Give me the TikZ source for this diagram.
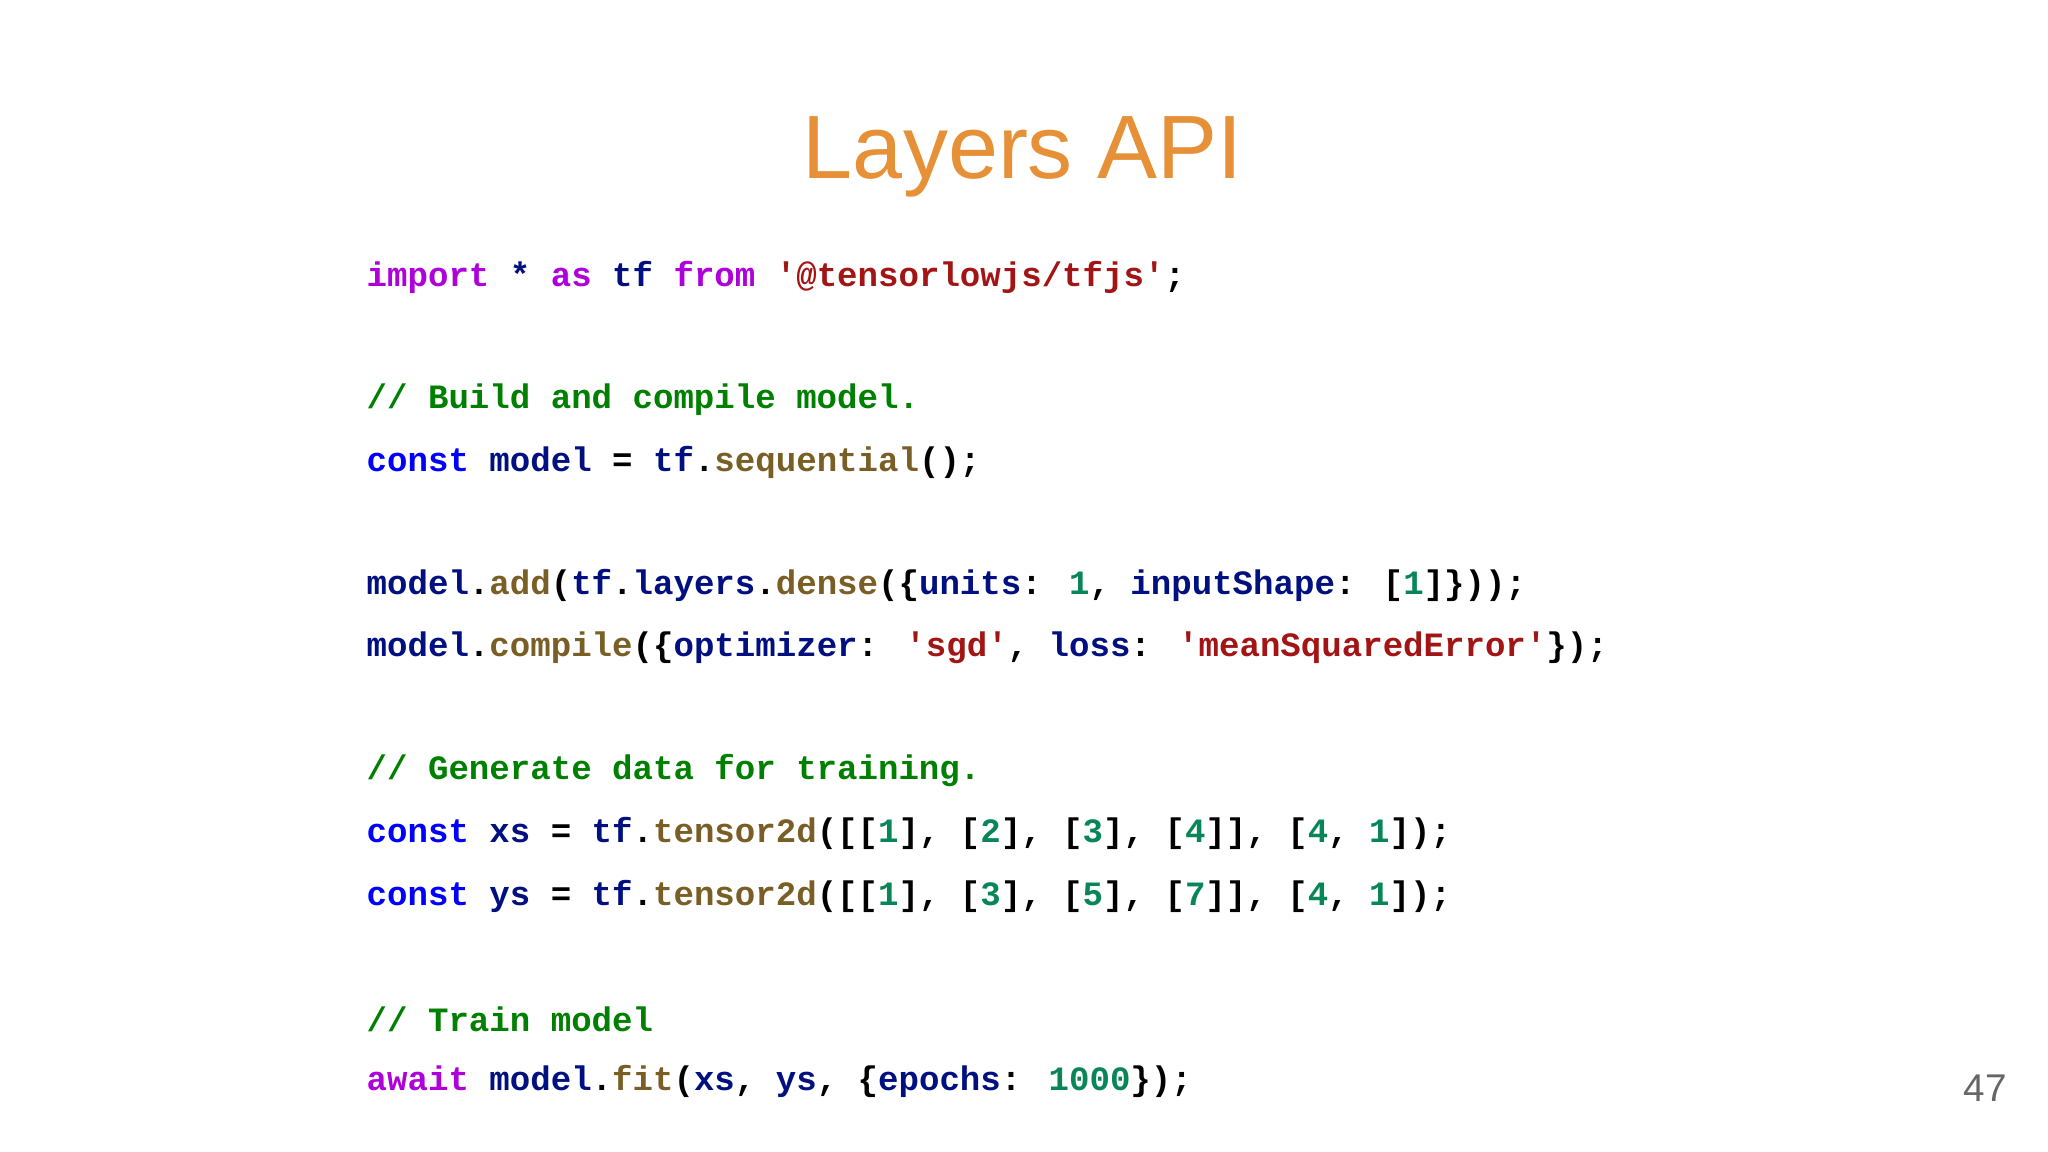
\documentclass[tikz,border=0pt]{standalone}
\usepackage{fontspec}
\setmainfont{Liberation Sans}
\newfontfamily\codefont{Liberation Mono}[Ligatures=NoCommon]
\definecolor{titlec}{RGB}{230,145,56}
\definecolor{kwc}{RGB}{175,0,219}
\definecolor{cstc}{RGB}{0,0,255}
\definecolor{idc}{RGB}{0,16,128}
\definecolor{strc}{RGB}{163,21,21}
\definecolor{fnc}{RGB}{121,94,38}
\definecolor{numc}{RGB}{9,134,88}
\definecolor{cmc}{RGB}{0,128,0}
\newcommand\KW[1]{\textcolor{kwc}{#1}}
\newcommand\CS[1]{\textcolor{cstc}{#1}}
\newcommand\ID[1]{\textcolor{idc}{#1}}
\newcommand\ST[1]{\textcolor{strc}{\char"0027 #1\char"0027}}
\newcommand\FN[1]{\textcolor{fnc}{#1}}
\newcommand\NM[1]{\textcolor{numc}{#1}}
\newcommand\CM[1]{\textcolor{cmc}{#1}}
\tikzset{codeline/.style={anchor=west,inner sep=0pt,font=\codefont\bfseries\fontsize{9.7pt}{11pt}\selectfont}}
\begin{document}
\begin{tikzpicture}
\useasboundingbox (0,0) rectangle (20.48,-11.52);
\fill[white] (0,0) rectangle (20.48,-11.52);
\node[text=titlec,font=\fontsize{25.6pt}{30pt}\selectfont] (title) at (10.23,-1.57) {Layers API};
\node[codeline] (l1) at (3.66,-2.77) {\KW{import} \ID{*} \KW{as} \ID{tf} \KW{from} \ST{@tensorlowjs/tfjs};};
\node[codeline] (l2) at (3.66,-4.00) {\CM{// Build and compile model.}};
\node[codeline] (l3) at (3.66,-4.62) {\CS{const} \ID{model} = \ID{tf}.\FN{sequential}();};
\node[codeline] (l4) at (3.66,-5.85) {\ID{model}.\FN{add}(\ID{tf}.\ID{layers}.\FN{dense}(\{\ID{units}: \NM{1}, \ID{inputShape}: [\NM{1}]\}));};
\node[codeline] (l5) at (3.66,-6.48) {\ID{model}.\FN{compile}(\{\ID{optimizer}: \ST{sgd}, \ID{loss}: \ST{meanSquaredError}\});};
\node[codeline] (l6) at (3.66,-7.71) {\CM{// Generate data for training.}};
\node[codeline] (l7) at (3.66,-8.33) {\CS{const} \ID{xs} = \ID{tf}.\FN{tensor2d}([[\NM{1}], [\NM{2}], [\NM{3}], [\NM{4}]], [\NM{4}, \NM{1}]);};
\node[codeline] (l8) at (3.66,-8.96) {\CS{const} \ID{ys} = \ID{tf}.\FN{tensor2d}([[\NM{1}], [\NM{3}], [\NM{5}], [\NM{7}]], [\NM{4}, \NM{1}]);};
\node[codeline] (l9) at (3.66,-10.19) {\CM{// Train model}};
\node[codeline] (l10) at (3.66,-10.81) {\KW{await} \ID{model}.\FN{fit}(\ID{xs}, \ID{ys}, \{\ID{epochs}: \NM{1000}\});};
\node[text=black!60,font=\fontsize{11pt}{13pt}\selectfont] (pg) at (19.85,-10.88) {47};
\end{tikzpicture}
\end{document}
